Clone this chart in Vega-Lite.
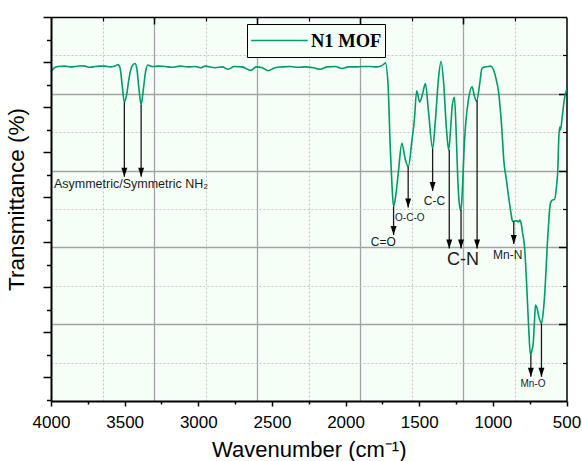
{
  "$schema": "https://vega.github.io/schema/vega-lite/v6.json",
  "width": 515.5,
  "height": 384,
  "autosize": {"type": "none"},
  "padding": {"left": 51, "top": 17, "right": 15.5, "bottom": 60},
  "background": "white",
  "config": {
    "view": {"fill": "#f5fff8", "stroke": null},
    "axis": {"labelFont": "Liberation Sans", "titleFont": "Liberation Sans", "labelColor": "#000", "titleColor": "#000", "tickColor": "#000", "domainColor": "#000", "titleFontWeight": "normal"},
    "text": {"font": "Liberation Sans", "color": "#1a1a1a"}
  },
  "datasets": {
    "spectrum": [
      {"x": 4000, "y": 85.8}, {"x": 3980, "y": 86.7}, {"x": 3952, "y": 87.1}, {"x": 3905, "y": 87.2}, {"x": 3870, "y": 87.0},
      {"x": 3837, "y": 87.1}, {"x": 3800, "y": 87.3}, {"x": 3769, "y": 87.2}, {"x": 3735, "y": 86.9}, {"x": 3701, "y": 87.1},
      {"x": 3670, "y": 87.2}, {"x": 3633, "y": 87.2}, {"x": 3599, "y": 87.0}, {"x": 3570, "y": 87.2}, {"x": 3558, "y": 87.4},
      {"x": 3545, "y": 87.6}, {"x": 3531, "y": 86.7}, {"x": 3517, "y": 82.3}, {"x": 3502, "y": 77.8}, {"x": 3487, "y": 79.7},
      {"x": 3470, "y": 84.1}, {"x": 3450, "y": 87.2}, {"x": 3429, "y": 87.9}, {"x": 3416, "y": 86.2}, {"x": 3402, "y": 81.0},
      {"x": 3388, "y": 77.1}, {"x": 3375, "y": 80.5}, {"x": 3358, "y": 85.7}, {"x": 3343, "y": 87.5}, {"x": 3314, "y": 87.1},
      {"x": 3270, "y": 87.2}, {"x": 3225, "y": 87.1}, {"x": 3180, "y": 86.9}, {"x": 3123, "y": 87.2}, {"x": 3070, "y": 87.0},
      {"x": 3021, "y": 87.1}, {"x": 2985, "y": 86.8}, {"x": 2953, "y": 87.2}, {"x": 2885, "y": 86.8}, {"x": 2838, "y": 87.0},
      {"x": 2797, "y": 86.4}, {"x": 2756, "y": 87.1}, {"x": 2702, "y": 87.0}, {"x": 2643, "y": 86.1}, {"x": 2607, "y": 87.0},
      {"x": 2566, "y": 86.8}, {"x": 2525, "y": 86.0}, {"x": 2478, "y": 86.8}, {"x": 2430, "y": 87.0}, {"x": 2376, "y": 87.1},
      {"x": 2320, "y": 86.9}, {"x": 2274, "y": 87.0}, {"x": 2219, "y": 86.8}, {"x": 2172, "y": 86.4}, {"x": 2124, "y": 87.0},
      {"x": 2070, "y": 87.1}, {"x": 2024, "y": 86.6}, {"x": 1981, "y": 87.0}, {"x": 1934, "y": 87.0}, {"x": 1880, "y": 87.1},
      {"x": 1832, "y": 87.1}, {"x": 1790, "y": 87.0}, {"x": 1764, "y": 87.2}, {"x": 1735, "y": 87.9}, {"x": 1730, "y": 88.1},
      {"x": 1712, "y": 82.7}, {"x": 1696, "y": 65.4}, {"x": 1685, "y": 56.3}, {"x": 1674, "y": 50.6}, {"x": 1659, "y": 53.6},
      {"x": 1640, "y": 60.2}, {"x": 1618, "y": 67.1}, {"x": 1594, "y": 62.8}, {"x": 1574, "y": 61.0}, {"x": 1549, "y": 68.0},
      {"x": 1533, "y": 73.2}, {"x": 1517, "y": 80.8}, {"x": 1497, "y": 77.9}, {"x": 1479, "y": 79.7}, {"x": 1458, "y": 82.7},
      {"x": 1438, "y": 75.8}, {"x": 1409, "y": 65.8}, {"x": 1390, "y": 73.2}, {"x": 1370, "y": 83.6}, {"x": 1352, "y": 88.4},
      {"x": 1334, "y": 82.7}, {"x": 1316, "y": 71.4}, {"x": 1300, "y": 65.4}, {"x": 1285, "y": 71.9}, {"x": 1275, "y": 77.1},
      {"x": 1261, "y": 79.1}, {"x": 1250, "y": 71.0}, {"x": 1238, "y": 57.6}, {"x": 1228, "y": 51.5}, {"x": 1220, "y": 49.7},
      {"x": 1212, "y": 51.5}, {"x": 1204, "y": 57.6}, {"x": 1195, "y": 66.0}, {"x": 1186, "y": 71.4}, {"x": 1166, "y": 78.4},
      {"x": 1141, "y": 81.8}, {"x": 1125, "y": 79.4}, {"x": 1110, "y": 78.1}, {"x": 1089, "y": 82.7}, {"x": 1074, "y": 86.6},
      {"x": 1057, "y": 87.0}, {"x": 1030, "y": 87.1}, {"x": 1016, "y": 87.2}, {"x": 1003, "y": 86.8}, {"x": 982, "y": 84.5},
      {"x": 960, "y": 80.1}, {"x": 937, "y": 69.7}, {"x": 926, "y": 62.8}, {"x": 908, "y": 57.6}, {"x": 899, "y": 54.9},
      {"x": 880, "y": 49.7}, {"x": 869, "y": 47.1}, {"x": 862, "y": 46.7}, {"x": 850, "y": 46.9}, {"x": 835, "y": 46.9},
      {"x": 826, "y": 46.6}, {"x": 817, "y": 47.1}, {"x": 808, "y": 46.3}, {"x": 799, "y": 44.0}, {"x": 785, "y": 40.2},
      {"x": 772, "y": 31.5}, {"x": 756, "y": 18.5}, {"x": 745, "y": 12.0}, {"x": 734, "y": 13.3}, {"x": 726, "y": 15.0},
      {"x": 717, "y": 21.1}, {"x": 711, "y": 25.0}, {"x": 700, "y": 24.2}, {"x": 688, "y": 22.0}, {"x": 670, "y": 20.2},
      {"x": 660, "y": 22.4}, {"x": 649, "y": 27.2}, {"x": 627, "y": 42.8}, {"x": 609, "y": 51.5}, {"x": 597, "y": 52.3},
      {"x": 581, "y": 52.5}, {"x": 568, "y": 55.8}, {"x": 559, "y": 60.2}, {"x": 552, "y": 68.8}, {"x": 545, "y": 71.4},
      {"x": 541, "y": 70.6}, {"x": 529, "y": 74.0}, {"x": 517, "y": 77.9}, {"x": 507, "y": 80.1}, {"x": 500, "y": 81.0}
    ],
    "arrows": [
      {"x": 3502, "y1": 77.8, "y2": 58.4},
      {"x": 3388, "y1": 77.1, "y2": 58.4},
      {"x": 1674, "y1": 50.6, "y2": 43.2},
      {"x": 1575, "y1": 61.0, "y2": 50.4},
      {"x": 1409, "y1": 65.8, "y2": 54.7},
      {"x": 1296, "y1": 65.4, "y2": 39.7},
      {"x": 1216, "y1": 49.9, "y2": 39.7},
      {"x": 1107, "y1": 78.3, "y2": 39.7},
      {"x": 858, "y1": 46.8, "y2": 40.9},
      {"x": 742, "y1": 12.0, "y2": 6.3},
      {"x": 670, "y1": 20.2, "y2": 6.3}
    ],
    "labels": [
      {"x": 3980, "y": 56.5, "label": "Asymmetric/Symmetric NH₂"},
      {"x": 1744, "y": 41.5, "label": "C=O"},
      {"x": 1564, "y": 47.6, "label": "O-C-O"},
      {"x": 1397, "y": 52.2, "label": "C-C"},
      {"x": 1203, "y": 36.7, "label": "C-N"},
      {"x": 899, "y": 38.0, "label": "Mn-N"},
      {"x": 728, "y": 4.4, "label": "Mn-O"}
    ]
  },
  "resolve": {"axis": {"x": "independent", "y": "independent"}},
  "layer": [
    {
      "data": {"name": "spectrum"},
      "mark": {"type": "line", "strokeWidth": 1.6, "interpolate": "monotone"},
      "encoding": {
        "x": {"field": "x", "type": "quantitative", "scale": {"domain": [500, 4000], "reverse": true, "nice": false, "zero": false},
          "axis": {"orient": "bottom", "values": [4000, 3500, 3000, 2500, 2000, 1500, 1000, 500], "format": "d", "grid": false, "tickSize": 5, "tickWidth": 1.5, "domainWidth": 2, "labelFontSize": 17, "labelPadding": 8, "labelFlush": false, "labelOverlap": false, "title": "Wavenumber (cm⁻¹)", "titleFontSize": 22, "titlePadding": 9, "zindex": 1}},
        "y": {"field": "y", "type": "quantitative", "scale": {"domain": [0, 100], "nice": false, "zero": false},
          "axis": {"orient": "left", "values": [100, 88.28125, 76.5625, 64.84375, 53.125, 41.40625, 29.6875, 17.96875, 6.25], "labels": false, "grid": false, "tickSize": 8, "tickWidth": 1.5, "domainWidth": 2, "title": "Transmittance (%)", "titleFontSize": 22.5, "titlePadding": 14, "titleY": 182, "zindex": 1}},
        "order": {"field": "x", "sort": "descending"},
        "color": {"datum": "N1 MOF", "type": "nominal", "scale": {"range": ["#009a6b"]},
          "legend": {"orient": "none", "legendX": 196, "legendY": 7, "title": null, "symbolType": "stroke", "symbolSize": 3200, "symbolStrokeWidth": 1.6, "labelFont": "Liberation Serif", "labelFontSize": 18.5, "labelFontWeight": "bold", "labelColor": "#000", "labelOffset": 2, "padding": 3, "strokeColor": "#000", "fillColor": "#f5fff8", "clipHeight": 27}}
      }
    },
    {
      "data": {"name": "arrows"},
      "mark": {"type": "rule", "color": "#1a1a1a", "strokeWidth": 1.3},
      "encoding": {
        "x": {"field": "x", "type": "quantitative", "scale": {"domain": [500, 4000], "reverse": true, "nice": false, "zero": false},
          "axis": {"orient": "bottom", "values": [3750, 3250, 2750, 2250, 1750, 1250, 750], "labels": false, "domain": false, "grid": false, "tickSize": 3, "tickWidth": 1.5, "title": null, "zindex": 1}},
        "y": {"field": "y1", "type": "quantitative", "scale": {"domain": [0, 100], "nice": false, "zero": false},
          "axis": {"orient": "left", "values": [94.140625, 82.421875, 70.703125, 58.984375, 47.265625, 35.546875, 23.828125, 12.109375, 0.390625], "labels": false, "domain": false, "grid": false, "tickSize": 4.5, "tickWidth": 1.5, "title": null, "zindex": 1}},
        "y2": {"field": "y2"}
      }
    },
    {
      "data": {"name": "arrows"},
      "mark": {"type": "point", "shape": "M-0.33,-1L0.33,-1L0,0Z", "filled": true, "size": 324, "color": "#000", "opacity": 1, "strokeWidth": 0},
      "encoding": {
        "x": {"field": "x", "type": "quantitative", "scale": {"domain": [500, 4000], "reverse": true, "nice": false, "zero": false},
          "axis": {"orient": "top", "values": [3650, 2950, 2250, 1550, 850], "labels": false, "domain": true, "domainWidth": 1.5, "grid": true, "gridDash": [2, 2], "gridColor": "#c4c4c4", "gridWidth": 1, "tickSize": -4, "tickWidth": 1.2, "title": null, "zindex": 0}},
        "y": {"field": "y2", "type": "quantitative", "scale": {"domain": [0, 100], "nice": false, "zero": false},
          "axis": {"orient": "right", "values": [10, 30, 50, 70, 90], "labels": false, "domain": true, "domainWidth": 1.5, "grid": true, "gridDash": [2, 2], "gridColor": "#c4c4c4", "gridWidth": 1, "tickSize": -4, "tickWidth": 1.2, "title": null, "zindex": 0}}
      }
    },
    {
      "data": {"name": "labels"},
      "transform": [{"filter": {"field": "label", "oneOf": ["C=O", "C-C", "Mn-N"]}}],
      "mark": {"type": "text", "fontSize": 12, "align": "center", "baseline": "middle"},
      "encoding": {
        "x": {"field": "x", "type": "quantitative", "scale": {"domain": [500, 4000], "reverse": true, "nice": false, "zero": false},
          "axis": {"orient": "top", "values": [3300, 2600, 1900, 1200], "labels": false, "domain": false, "grid": true, "gridColor": "#a3a3a3", "gridWidth": 1.3, "tickSize": -7, "tickWidth": 1.5, "title": null, "zindex": 0}},
        "y": {"field": "y", "type": "quantitative", "scale": {"domain": [0, 100], "nice": false, "zero": false},
          "axis": {"orient": "right", "values": [20, 40, 60, 80], "labels": false, "domain": false, "grid": true, "gridColor": "#a3a3a3", "gridWidth": 1.3, "tickSize": -8, "tickWidth": 1.5, "title": null, "zindex": 0}},
        "text": {"field": "label"}
      }
    },
    {
      "data": {"name": "labels"},
      "transform": [{"filter": {"field": "label", "oneOf": ["Asymmetric/Symmetric NH₂"]}}],
      "mark": {"type": "text", "fontSize": 12.5, "align": "left", "baseline": "middle"},
      "encoding": {
        "x": {"field": "x", "type": "quantitative", "scale": {"domain": [500, 4000], "reverse": true, "nice": false, "zero": false}, "axis": null},
        "y": {"field": "y", "type": "quantitative", "scale": {"domain": [0, 100], "nice": false, "zero": false}, "axis": null},
        "text": {"field": "label"}
      }
    },
    {
      "data": {"name": "labels"},
      "transform": [{"filter": {"field": "label", "oneOf": ["O-C-O", "Mn-O"]}}],
      "mark": {"type": "text", "fontSize": 10, "align": "center", "baseline": "middle"},
      "encoding": {
        "x": {"field": "x", "type": "quantitative", "scale": {"domain": [500, 4000], "reverse": true, "nice": false, "zero": false}, "axis": null},
        "y": {"field": "y", "type": "quantitative", "scale": {"domain": [0, 100], "nice": false, "zero": false}, "axis": null},
        "text": {"field": "label"}
      }
    },
    {
      "data": {"name": "labels"},
      "transform": [{"filter": {"field": "label", "oneOf": ["C-N"]}}],
      "mark": {"type": "text", "fontSize": 18, "align": "center", "baseline": "middle"},
      "encoding": {
        "x": {"field": "x", "type": "quantitative", "scale": {"domain": [500, 4000], "reverse": true, "nice": false, "zero": false}, "axis": null},
        "y": {"field": "y", "type": "quantitative", "scale": {"domain": [0, 100], "nice": false, "zero": false}, "axis": null},
        "text": {"field": "label"}
      }
    }
  ]
}
